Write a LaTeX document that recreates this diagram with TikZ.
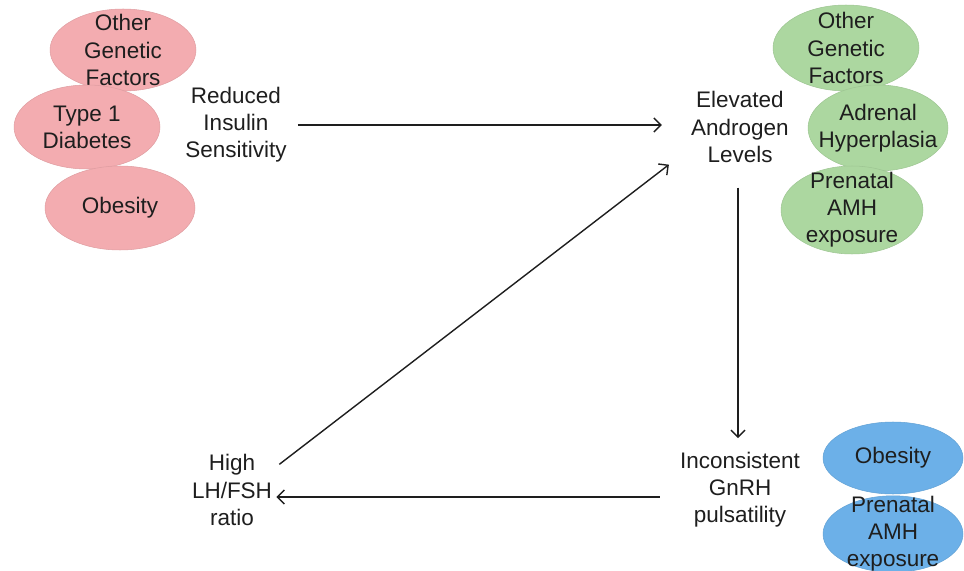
\documentclass[tikz,border=0pt]{standalone}
\usepackage{fontspec}
\setmainfont{Liberation Sans}
\usepackage{tikz}
\usetikzlibrary{shapes.geometric}
\usetikzlibrary{arrows.meta}
\pgfdeclarelayer{edgelayer}
\pgfdeclarelayer{nodelayer}
\pgfsetlayers{edgelayer,nodelayer,main}
\definecolor{pinkfill}{RGB}{243,172,176}
\definecolor{greenfill}{RGB}{172,215,160}
\definecolor{bluefill}{RGB}{108,176,232}
\definecolor{inktext}{RGB}{30,30,30}
\tikzstyle{none}=[inner sep=0pt,align=center,text=inktext,font=\fontsize{12.8}{15.4}\selectfont]
\tikzstyle{factor}=[ellipse,inner sep=-6pt,align=center,text=inktext,font=\fontsize{12.8}{15.4}\selectfont]
\tikzstyle{pinkfactor}=[factor,fill=pinkfill,draw=pinkfill!92!black,line width=0.3pt]
\tikzstyle{greenfactor}=[factor,fill=greenfill,draw=greenfill!92!black,line width=0.3pt]
\tikzstyle{bluefactor}=[factor,fill=bluefill,draw=bluefill!92!black,line width=0.3pt]
\tikzstyle{flow}=[-{Straight Barb[length=4pt,width=8pt]},draw=inktext,line width=0.8pt]

\begin{document}
\begin{tikzpicture}[x=0.02cm,y=-0.02cm]
	\useasboundingbox (0,0) rectangle (964,571);
	\begin{pgfonlayer}{nodelayer}
		\node [style=pinkfactor, minimum width=2.92cm, minimum height=1.64cm] (5) at (123, 50) {Other\\Genetic\\Factors};
		\node [style=pinkfactor, minimum width=2.92cm, minimum height=1.68cm] (6) at (87, 127) {Type 1\\Diabetes};
		\node [style=pinkfactor, minimum width=3.0cm, minimum height=1.68cm] (7) at (120, 208) {Obesity};
		\node [style=greenfactor, minimum width=2.92cm, minimum height=1.72cm] (8) at (846, 48) {Other\\Genetic\\Factors};
		\node [style=greenfactor, minimum width=2.8cm, minimum height=1.72cm] (9) at (878, 128) {Adrenal\\Hyperplasia};
		\node [style=greenfactor, minimum width=2.84cm, minimum height=1.76cm] (10) at (852, 210) {Prenatal\\AMH\\exposure};
		\node [style=bluefactor, minimum width=2.8cm, minimum height=1.44cm] (11) at (893, 458) {Obesity};
		\node [style=bluefactor, minimum width=2.8cm, minimum height=1.48cm] (12) at (893, 534) {Prenatal\\AMH\\exposure};
		\node [style=none] (1) at (236, 125) {Reduced\\Insulin\\Sensitivity};
		\node [style=none] (2) at (740, 127) {Elevated\\Androgen\\Levels};
		\node [style=none] (3) at (740, 490) {Inconsistent\\GnRH\\pulsatility};
		\node [style=none] (4) at (232, 490) {High\\LH/FSH\\ratio};
	\end{pgfonlayer}
	\begin{pgfonlayer}{edgelayer}
		\draw [style=flow, shorten <=0.22cm, shorten >=0.58cm] (1.east) to (2.west |- 1.east);
		\draw [style=flow, shorten <=0.5cm, shorten >=0.28cm] ([xshift=-0.04cm]2.south) to ([xshift=-0.04cm]3.north);
		\draw [style=flow, shorten <=0.4cm, shorten >=0.08cm] ([yshift=-0.14cm]3.west) to ([yshift=-0.14cm]4.east |- 3.west);
		\draw [style=flow] ([xshift=0.14cm,yshift=-0.2cm]4.north east) to ([xshift=-0.44cm,yshift=-0.04cm]2.south west);
	\end{pgfonlayer}
\end{tikzpicture}
\end{document}
